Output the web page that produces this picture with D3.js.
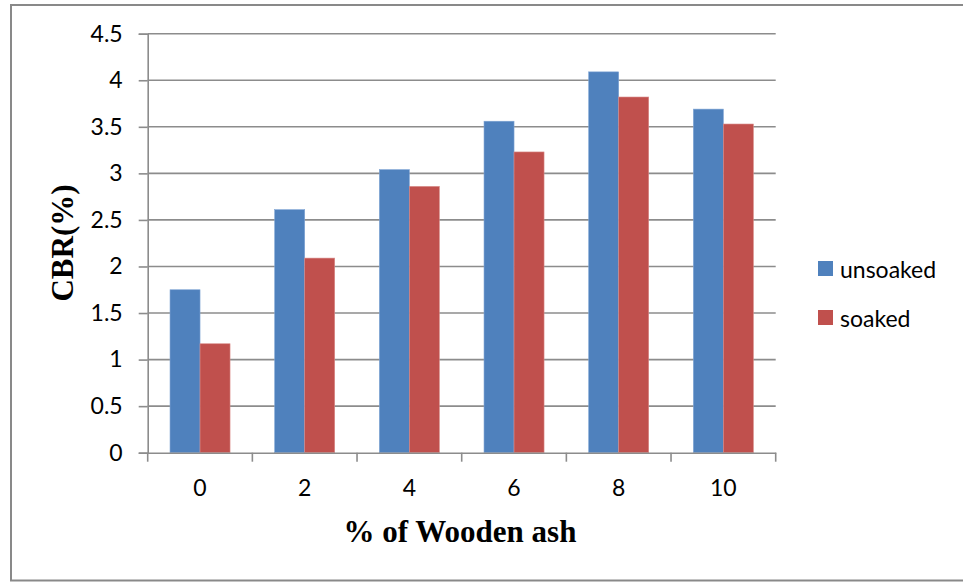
<!DOCTYPE html>
<html>
<head>
<meta charset="utf-8">
<script src="https://cdn.jsdelivr.net/npm/d3@7"></script>
<style>
  html, body { margin: 0; padding: 0; background: #fff; }
  svg { display: block; }
</style>
</head>
<body>
<script>
const categories = ["0", "2", "4", "6", "8", "10"];
const seriesNames = ["unsoaked", "soaked"];
const unsoaked = [1.75, 2.61, 3.04, 3.56, 4.09, 3.69];
const soaked = [1.17, 2.09, 2.86, 3.23, 3.82, 3.53];
const yTickValues = [0, 0.5, 1, 1.5, 2, 2.5, 3, 3.5, 4, 4.5];
const yTickLabels = ["0", "0.5", "1", "1.5", "2", "2.5", "3", "3.5", "4", "4.5"];
const colors = ["#4F81BD", "#C0504D"];
const xTitle = "% of Wooden ash";
const yTitle = "CBR(%)";

(function () {
const W = 963, H = 584;
const svg = d3.select("body").append("svg").attr("width", W).attr("height", H);

// outer frame
svg.append("rect").attr("x", 11).attr("y", 5).attr("width", 965).attr("height", 575.5)
  .attr("fill", "#fff").attr("stroke", "#898989").attr("stroke-width", 2);

const pLeft = 147.7, pRight = 775.7, pTop = 33.7, pBottom = 452.7;

const x = d3.scaleBand().domain(categories).range([pLeft, pRight]).paddingInner(0).paddingOuter(0);
const xs = d3.scaleBand().domain(seriesNames).range([0, x.bandwidth()]).paddingInner(0).paddingOuter(0.744);
const y = d3.scaleLinear().domain([0, 4.5]).range([pBottom, pTop]);

const labelFont = "Lato, 'Open Sans', sans-serif";
const labelSize = 23;
const gridColor = "#8c8c8c";

// gridlines
svg.append("g").selectAll("line").data(yTickValues.filter(v => v > 0)).join("line")
  .attr("x1", pLeft).attr("x2", pRight)
  .attr("y1", d => y(d)).attr("y2", d => y(d))
  .attr("stroke", gridColor).attr("stroke-width", 1.6);

// bars
const data = categories.map((c, i) => ({ c, vals: [unsoaked[i], soaked[i]] }));
const groups = svg.append("g").selectAll("g").data(data).join("g")
  .attr("transform", d => `translate(${x(d.c)},0)`);
groups.selectAll("rect").data(d => d.vals.map((v, j) => ({ s: seriesNames[j], v, j }))).join("rect")
  .attr("x", d => xs(d.s))
  .attr("width", xs.bandwidth())
  .attr("y", d => y(d.v))
  .attr("height", d => y(0) - y(d.v))
  .attr("fill", d => colors[d.j])
  .attr("stroke", d => d.j === 0 ? "#7fa4d4" : "#d88a88")
  .attr("stroke-width", 0.6);

// y axis
const yAxis = d3.axisLeft(y).tickValues(yTickValues)
  .tickFormat((d, i) => yTickLabels[i]).tickSize(9).tickPadding(16);
const gy = svg.append("g").attr("transform", `translate(${pLeft},0)`).call(yAxis);
gy.select(".domain").attr("stroke", gridColor).attr("stroke-width", 1.6);
gy.selectAll(".tick line").attr("stroke", gridColor).attr("stroke-width", 1.6);
gy.selectAll(".tick text").attr("font-family", labelFont).attr("font-size", labelSize).attr("fill", "#000");

// x axis
const xAxis = d3.axisBottom(x).tickSize(0).tickPadding(27);
const gx = svg.append("g").attr("transform", `translate(0,${pBottom})`).call(xAxis);
gx.select(".domain").attr("stroke", gridColor).attr("stroke-width", 1.6);
gx.selectAll(".tick text").attr("font-family", labelFont).attr("font-size", labelSize).attr("fill", "#000");
// category boundary ticks
const bounds = categories.map(c => x(c)).concat([pRight]);
gx.append("g").selectAll("line").data(bounds).join("line")
  .attr("x1", d => d).attr("x2", d => d).attr("y1", 0).attr("y2", 9)
  .attr("stroke", gridColor).attr("stroke-width", 1.6);

// titles
svg.append("text").attr("x", 460).attr("y", 531).attr("text-anchor", "middle")
  .attr("dominant-baseline", "central")
  .attr("font-family", "'Liberation Serif', 'Times New Roman', serif")
  .attr("font-weight", "bold").attr("font-size", 31).text(xTitle);

svg.append("text").attr("transform", "translate(62,243) rotate(-90)")
  .attr("text-anchor", "middle").attr("dominant-baseline", "central")
  .attr("font-family", "'Liberation Serif', 'Times New Roman', serif")
  .attr("font-weight", "bold").attr("font-size", 31).text(yTitle);

// legend
const lg = svg.append("g").selectAll("g").data(seriesNames).join("g")
  .attr("transform", (d, i) => `translate(818,${261 + i * 49})`);
lg.append("rect").attr("width", 15).attr("height", 15).attr("fill", (d, i) => colors[i]);
lg.append("text").attr("x", 22).attr("y", 7.5).attr("dominant-baseline", "central")
  .attr("font-family", labelFont).attr("font-size", labelSize).attr("fill", "#000").text(d => d);
})();
</script>
</body>
</html>
